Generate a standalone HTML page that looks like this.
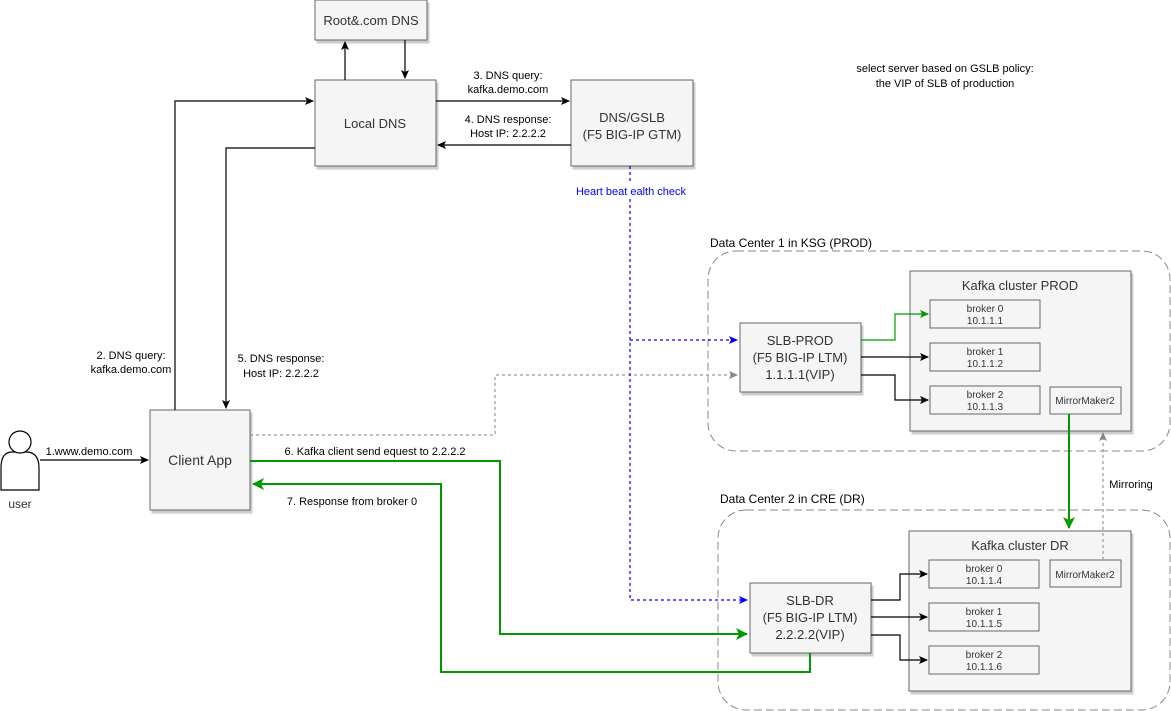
<!DOCTYPE html>
<html><head><meta charset="utf-8"><style>
html,body{margin:0;padding:0;background:#fff;}
svg{display:block;font-family:"Liberation Sans",Arial,sans-serif;}
</style></head><body>
<svg width="1171" height="711" viewBox="0 0 1171 711" xmlns="http://www.w3.org/2000/svg">
<defs>
<marker id="ab" markerWidth="10" markerHeight="10" refX="8" refY="5" orient="auto" markerUnits="userSpaceOnUse"><path d="M0,1 L9,5 L0,9 L2,5 Z" fill="#000"/></marker>
<marker id="ag" markerWidth="14" markerHeight="14" refX="11" refY="7" orient="auto" markerUnits="userSpaceOnUse"><path d="M0,1 L12,7 L0,13 L3,7 Z" fill="#009900"/></marker>
<marker id="agS" markerWidth="10" markerHeight="10" refX="8" refY="5" orient="auto" markerUnits="userSpaceOnUse"><path d="M0,1 L9,5 L0,9 L2,5 Z" fill="#009900"/></marker>
<marker id="au" markerWidth="10" markerHeight="10" refX="8" refY="5" orient="auto" markerUnits="userSpaceOnUse"><path d="M0,1 L9,5 L0,9 L2,5 Z" fill="#0000ff"/></marker>
<marker id="ay" markerWidth="10" markerHeight="10" refX="8" refY="5" orient="auto" markerUnits="userSpaceOnUse"><path d="M0,1 L9,5 L0,9 L2,5 Z" fill="#888"/></marker>
<filter id="sh" x="-10%" y="-10%" width="130%" height="130%"><feDropShadow dx="2" dy="3" stdDeviation="0.5" flood-color="#000" flood-opacity="0.2"/></filter>
</defs>

<!-- containers -->
<rect x="708" y="251" width="462" height="200" rx="28" fill="none" stroke="#888" stroke-dasharray="8 4"/>
<text x="710" y="247" font-size="12">Data Center 1 in KSG (PROD)</text>
<rect x="718" y="510" width="452" height="200" rx="28" fill="none" stroke="#888" stroke-dasharray="8 4"/>
<text x="720" y="503" font-size="12">Data Center 2 in CRE (DR)</text>

<!-- boxes -->
<g fill="#f5f5f5" stroke="#666" filter="url(#sh)">
<rect x="315" y="0" width="112" height="40"/>
<rect x="315" y="80" width="121" height="86"/>
<rect x="571" y="80" width="122" height="86"/>
<rect x="150" y="410" width="100" height="100"/>
<rect x="910" y="271" width="221" height="160"/>
<rect x="909" y="531" width="222" height="160"/>
<rect x="740" y="323" width="121" height="69"/>
<rect x="750" y="583" width="121" height="70"/>
<rect x="930" y="300" width="110" height="28"/>
<rect x="930" y="343" width="110" height="28"/>
<rect x="930" y="386" width="110" height="28"/>
<rect x="1050" y="387" width="71" height="27"/>
<rect x="929" y="560" width="110" height="28"/>
<rect x="929" y="603" width="110" height="28"/>
<rect x="929" y="646" width="110" height="28"/>
<rect x="1050" y="560" width="71" height="27"/>
</g>

<g font-size="13" fill="#333" text-anchor="middle">
<text x="371" y="25">Root&amp;.com DNS</text>
<text x="375" y="128">Local DNS</text>
<text x="632" y="122">DNS/GSLB</text>
<text x="632" y="139">(F5 BIG-IP GTM)</text>
<text x="200" y="465" font-size="14">Client App</text>
<text x="1020" y="290">Kafka cluster PROD</text>
<text x="1020" y="550">Kafka cluster DR</text>
<text x="800" y="345">SLB-PROD</text>
<text x="800" y="362">(F5 BIG-IP LTM)</text>
<text x="800" y="379">1.1.1.1(VIP)</text>
<text x="810" y="605">SLB-DR</text>
<text x="810" y="622">(F5 BIG-IP LTM)</text>
<text x="810" y="639">2.2.2.2(VIP)</text>
</g>
<g font-size="10" fill="#333" text-anchor="middle">
<text x="985" y="312">broker 0</text><text x="985" y="324">10.1.1.1</text>
<text x="985" y="355">broker 1</text><text x="985" y="367">10.1.1.2</text>
<text x="985" y="398">broker 2</text><text x="985" y="410">10.1.1.3</text>
<text x="1085" y="404">MirrorMaker2</text>
<text x="984" y="572">broker 0</text><text x="984" y="584">10.1.1.4</text>
<text x="984" y="615">broker 1</text><text x="984" y="627">10.1.1.5</text>
<text x="984" y="658">broker 2</text><text x="984" y="670">10.1.1.6</text>
<text x="1085" y="578">MirrorMaker2</text>
</g>

<!-- user -->
<g fill="#fff" stroke="#000" stroke-width="1.2">
<path d="M1,490 L1,468 Q1,452 12,452 L26,452 Q39,452 39,468 L39,490 Z"/>
<circle cx="20" cy="442" r="11"/>
</g>
<text x="20" y="508" font-size="12" text-anchor="middle" fill="#333">user</text>

<!-- black connectors -->
<g fill="none" stroke="#000" stroke-width="1.2" marker-end="url(#ab)">
<path d="M345,80 L345,42"/>
<path d="M405,40 L405,78"/>
<path d="M436,101 L569,101"/>
<path d="M571,145 L438,145"/>
<path d="M175,410 L175,101 L313,101"/>
<path d="M315,148 L226,148 L226,408"/>
<path d="M40,460 L148,460"/>
<path d="M861,357 L928,357"/>
<path d="M861,375 L895,375 L895,400 L928,400"/>
<path d="M871,600 L900,600 L900,574 L927,574"/>
<path d="M871,617 L927,617"/>
<path d="M871,635 L900,635 L900,660 L927,660"/>
</g>
<path d="M861,340 L895,340 L895,314 L928,314" fill="none" stroke="#009900" stroke-width="1.2" marker-end="url(#agS)"/>

<!-- green main -->
<g fill="none" stroke="#009900" stroke-width="2">
<path d="M250,461 L500,461 L500,634 L747,634" marker-end="url(#ag)"/>
<path d="M810,653 L810,672 L441,672 L441,484 L253,484" marker-end="url(#ag)"/>
<path d="M1069,414 L1069,528" marker-end="url(#ag)"/>
</g>

<!-- gray dashed -->
<g fill="none" stroke="#999" stroke-width="1.2" stroke-dasharray="3 3">
<path d="M250,435 L495,435 L495,375 L737,375" marker-end="url(#ay)"/>
<path d="M1103,560 L1103,433" marker-end="url(#ay)"/>
</g>

<!-- blue dotted -->
<g fill="none" stroke="#0000ff" stroke-width="1.2" stroke-dasharray="3 3">
<path d="M630,166 L630,181"/>
<path d="M630,199 L630,600 L747,600" marker-end="url(#au)"/>
<path d="M630,340 L737,340" marker-end="url(#au)"/>
</g>
<rect x="575" y="184" width="115" height="13" fill="#fff"/>
<text x="631" y="195" font-size="11" fill="#0000ff" text-anchor="middle">Heart beat ealth check</text>

<!-- labels -->
<g font-size="11" fill="#000" text-anchor="middle">
<text x="508" y="79">3. DNS query:</text>
<text x="508" y="93">kafka.demo.com</text>
<text x="508" y="123">4. DNS response:</text>
<text x="508" y="137">Host IP: 2.2.2.2</text>
<text x="131" y="359">2. DNS query:</text>
<text x="131" y="373">kafka.demo.com</text>
<text x="281" y="362">5. DNS response:</text>
<text x="281" y="377">Host IP: 2.2.2.2</text>
<text x="89" y="455">1.www.demo.com</text>
<text x="375" y="455">6. Kafka client send equest to 2.2.2.2</text>
<text x="352" y="505">7. Response from broker 0</text>
<text x="1131" y="488">Mirroring</text>
<text x="945" y="72">select server based on GSLB policy:</text>
<text x="945" y="87">the VIP of SLB of production</text>
</g>
</svg>
</body></html>
